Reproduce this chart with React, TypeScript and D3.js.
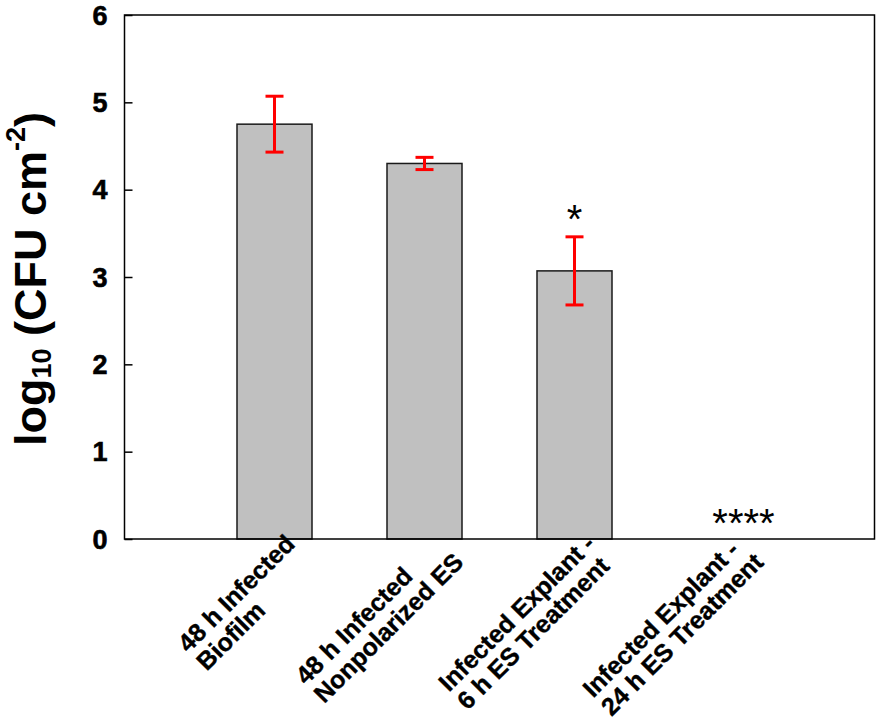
import React, { useEffect, useRef } from 'react';
import * as d3 from 'd3';

const categories: string[][] = [
  ['48 h Infected', 'Biofilm'],
  ['48 h Infected', 'Nonpolarized ES'],
  ['Infected Explant -', '6 h ES Treatment'],
  ['Infected Explant -', '24 h ES Treatment'],
];
const means = [4.75, 4.3, 3.07, 0];
const errors = [0.32, 0.07, 0.39, 0];
const significance = ['', '', '*', '****'];
const yTicks = [0, 1, 2, 3, 4, 5, 6];

const FONT = "'Liberation Sans', Arial, Helvetica, sans-serif";

const App: React.FC = () => {
  const svgRef = useRef<SVGSVGElement>(null);
  const width = 879;
  const height = 721;

  useEffect(() => {
    if (!svgRef.current) return;
    const svg = d3.select(svgRef.current);
    svg.selectAll('*').remove();

    const left = 124.5;
    const right = 874.5;
    const top = 15;
    const bottom = 539;

    const x = d3.scaleLinear().domain([0, 5]).range([left, right]);
    const y = d3.scaleLinear().domain([0, 6]).range([bottom, top]);
    const barW = (x(1) - x(0)) / 2;

    // bars (the 24 h group has no growth, so nothing is drawn there)
    svg
      .append('g')
      .selectAll('rect')
      .data(means.map((m, i) => ({ m, i })).filter((d) => d.m > 0))
      .enter()
      .append('rect')
      .attr('x', (d) => x(d.i + 1) - barW / 2)
      .attr('y', (d) => y(d.m))
      .attr('width', barW)
      .attr('height', (d) => y(0) - y(d.m))
      .attr('fill', '#c0c0c0')
      .attr('stroke', '#1a1a1a')
      .attr('stroke-width', 1.5);

    // error bars
    const capW = 18;
    const eg = svg.append('g').attr('stroke', '#ff0000').attr('stroke-width', 3);
    means.forEach((m, i) => {
      const e = errors[i];
      if (e <= 0) return;
      const cx = x(i + 1);
      eg.append('line').attr('x1', cx).attr('x2', cx).attr('y1', y(m - e)).attr('y2', y(m + e));
      eg.append('line').attr('x1', cx - capW / 2).attr('x2', cx + capW / 2).attr('y1', y(m + e)).attr('y2', y(m + e));
      eg.append('line').attr('x1', cx - capW / 2).attr('x2', cx + capW / 2).attr('y1', y(m - e)).attr('y2', y(m - e));
    });

    // frame
    svg
      .append('rect')
      .attr('x', left)
      .attr('y', top)
      .attr('width', right - left)
      .attr('height', bottom - top)
      .attr('fill', 'none')
      .attr('stroke', '#000')
      .attr('stroke-width', 1.5);

    // y axis ticks (inward)
    const yAxis = svg
      .append('g')
      .attr('transform', `translate(${left},0)`)
      .call(d3.axisRight(y).tickValues(yTicks).tickSize(8).tickFormat(() => ''));
    yAxis.select('.domain').remove();
    yAxis.selectAll('line').attr('stroke', '#000').attr('stroke-width', 1.5);

    svg
      .append('g')
      .selectAll('text')
      .data(yTicks)
      .enter()
      .append('text')
      .attr('x', left - 17)
      .attr('y', (d) => y(d))
      .attr('dy', '0.36em')
      .attr('text-anchor', 'end')
      .attr('font-family', FONT)
      .attr('font-weight', 'bold')
      .attr('font-size', 27)
      .attr('fill', '#000')
      .attr('stroke', '#000')
      .attr('stroke-width', 0.6)
      .text((d) => d);

    // y title
    const title = svg
      .append('text')
      .attr('transform', `translate(46,${(top + bottom) / 2 + 2}) rotate(-90)`)
      .attr('text-anchor', 'middle')
      .attr('font-family', FONT)
      .attr('font-weight', 'bold')
      .attr('font-size', 45)
      .attr('fill', '#000');
    title.append('tspan').text('log');
    title.append('tspan').attr('font-size', 27).attr('dy', 5).text('10');
    title.append('tspan').attr('dy', -5).text(' (CFU cm');
    title.append('tspan').attr('font-size', 27).attr('dy', -21).text('-2');
    title.append('tspan').attr('dy', 21).text(')');

    // category labels, rotated 45deg, lines left-aligned
    const lineH = 26;
    categories.forEach((lines, i) => {
      const g = svg
        .append('g')
        .attr('transform', `translate(${x(i + 1)},${y(0)}) rotate(-45)`);
      const texts = lines.map((ln, j) =>
        g
          .append('text')
          .attr('y', 20 + j * lineH)
          .attr('font-family', FONT)
          .attr('font-weight', 'bold')
          .attr('font-size', 25)
          .attr('fill', '#000')
          .attr('stroke', '#000')
          .attr('stroke-width', 0.4)
          .text(ln)
      );
      const w = d3.max(texts, (t) => (t.node() as SVGTextElement).getComputedTextLength()) || 0;
      texts.forEach((t) => t.attr('x', 11 - w));
    });

    // significance markers
    svg
      .append('g')
      .selectAll('text')
      .data(significance)
      .enter()
      .append('text')
      .attr('x', (d, i) => x(i + 1) + (d.length > 1 ? 19 : 0))
      .attr('y', (d, i) => (means[i] > 0 ? y(means[i] + errors[i]) - 4 : y(0) - 2))
      .attr('text-anchor', 'middle')
      .attr('font-family', FONT)
      .attr('font-size', 40)
      .attr('fill', '#000')
      .text((d) => d);
  }, []);

  return (
    <svg
      ref={svgRef}
      width={width}
      height={height}
      style={{ position: 'absolute', left: 0, top: 0, background: '#fff' }}
    />
  );
};

export default App;
